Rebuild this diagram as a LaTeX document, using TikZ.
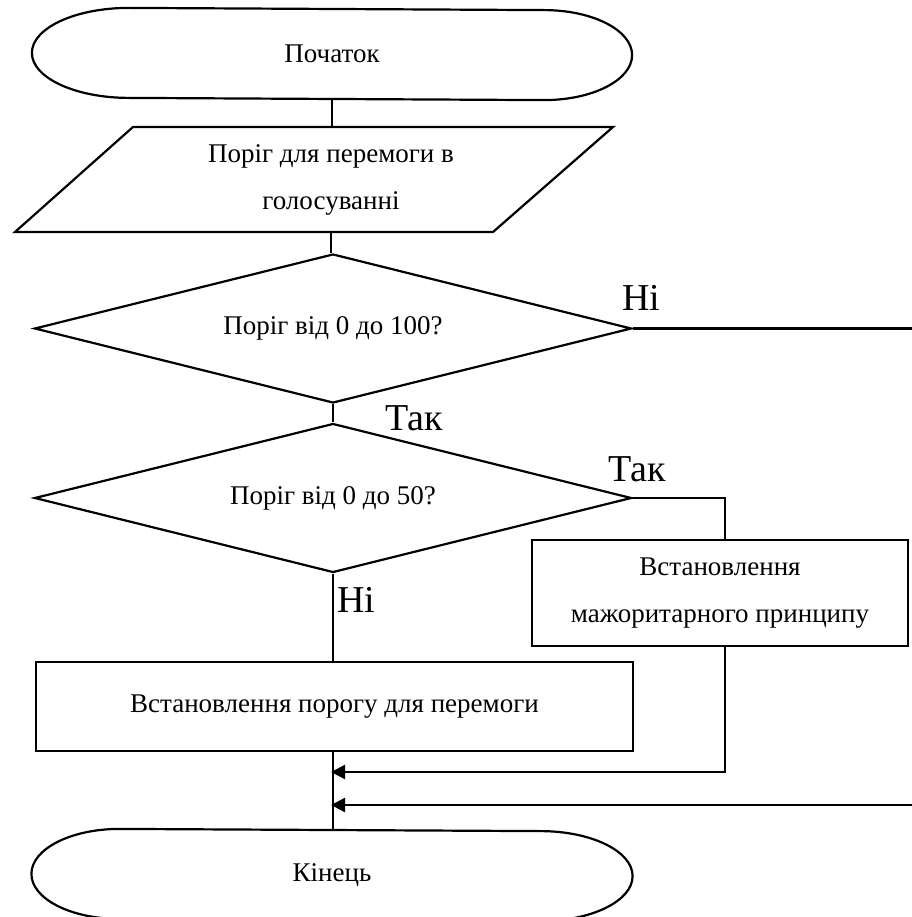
\documentclass[tikz,border=0pt]{standalone}
\usepackage{fontspec}
\setmainfont{Liberation Serif}
\usetikzlibrary{shapes.geometric,arrows.meta}

\begin{document}
\begin{tikzpicture}[x=1pt, y=-1pt, line width=2.2pt,
  font=\fontsize{27}{47}\selectfont,
  txt/.style={inner sep=0pt, align=center},
  decision/.style={diamond, draw, minimum width=597pt, minimum height=149pt,
    inner sep=0pt, aspect=4, align=center},
  process/.style={rectangle, draw, inner sep=0pt, align=center},
  lbl/.style={inner sep=0pt, font=\fontsize{38}{40}\selectfont},
  arr/.style={-{Triangle[length=14pt,width=14pt]}}]

\useasboundingbox (0,0) rectangle (911,917);

% start terminal
\node[txt, minimum width=598pt, minimum height=90pt] (start) at (332,54) {Початок};
\draw ([xshift=97pt]start.north west)
  arc[start angle=90, end angle=270, x radius=97pt, y radius=45pt]
  -- ([xshift=-88pt]start.south east)
  arc[start angle=-90, end angle=90, x radius=88pt, y radius=45pt] -- cycle;

% input parallelogram
\node[txt, minimum width=360pt, minimum height=105pt] (in) at (331,179.5)
  {Поріг для перемоги в\\голосуванні};
\draw (133,127) -- (613,127) -- (493,232) -- (15,232) -- cycle;

% decisions
\node[decision] (d1) at (333,328.5) {Поріг від 0 до 100?};
\node[decision] (d2) at (333,498) {Поріг від 0 до 50?};

% processes
\node[process, minimum width=597pt, minimum height=89pt] (p1) at (334.5,706.5)
  {Встановлення порогу для перемоги};
\node[process, minimum width=376pt, minimum height=106pt] (p2) at (720,593)
  {Встановлення\\мажоритарного принципу};

% end terminal
\node[txt, minimum width=599pt, minimum height=90pt] (end) at (332,875) {Кінець};
\draw ([xshift=88pt]end.north west)
  arc[start angle=90, end angle=270, x radius=88pt, y radius=45pt]
  -- ([xshift=-92pt]end.south east)
  arc[start angle=-90, end angle=90, x radius=92pt, y radius=45pt] -- cycle;

% junction points
\coordinate (m1) at (331,772);
\coordinate (m2) at (331,805);
\coordinate (r1) at (915,328.5);
\coordinate (r2) at (915,805);
\coordinate (t1) at (725,540);
\coordinate (b1) at (725,646);

% main column
\draw (start.south) -- (start.south |- in.north);
\draw (in.south) -- (in.south |- d1.north);
\draw (d1.south) -- (d2.north);
\draw (d2.south) -- (d2.south |- p1.north);
\draw (d2.south |- p1.south) -- (d2.south |- end.north);

% branches
\draw (d1.east) -- (r1);
\draw (d2.east) -| (t1);
\draw[arr] (b1) |- (m1);
\draw[arr] (r2) -- (m2);

% branch labels
\node[lbl] (l1) at (641,298) {Ні};
\node[lbl] (l2) at (414,418) {Так};
\node[lbl] (l3) at (637,469) {Так};
\node[lbl] (l4) at (356,600) {Ні};
\end{tikzpicture}
\end{document}
